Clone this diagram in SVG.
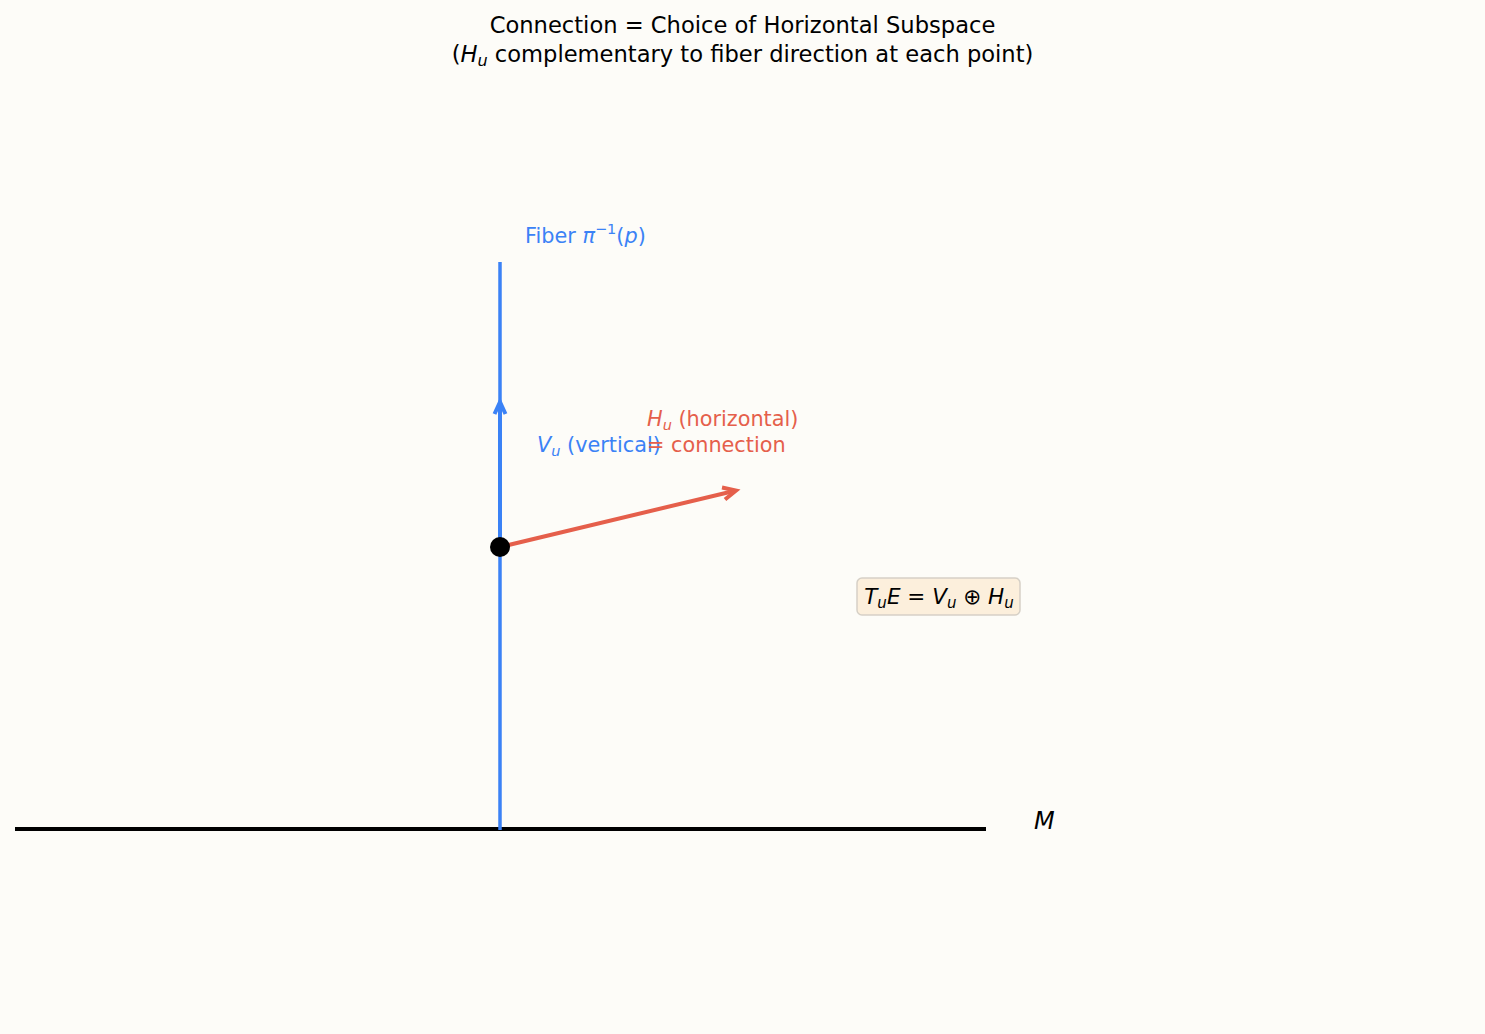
<svg xmlns="http://www.w3.org/2000/svg" width="1485" height="1034" viewBox="0 0 1485 1034">
<style>
text{font-family:"DejaVu Sans","Liberation Sans",sans-serif}
.title{font-size:22.6px;fill:#000;text-anchor:middle}
.lbl{font-size:20.8px}
.it{font-style:italic}
.sub{font-size:14.5px}
.blue{fill:#3b82f6}
.red{fill:#e55f4b}
</style>
<rect width="1485" height="1034" fill="#fdfcf8"/>
<g id="title">
<text class="title" x="742.5" y="33">Connection = Choice of Horizontal Subspace</text>
<text class="title" x="742.5" y="62">(<tspan class="it">H</tspan><tspan class="it" font-size="16" dy="4">u</tspan><tspan dy="-4"> complementary to fiber direction at each point)</tspan></text>
</g>
<g id="connectors" fill="none" stroke-linecap="butt">
<line id="base-M" x1="15" y1="829" x2="986" y2="829" stroke="#000" stroke-width="4"/>
<line id="fiber" x1="500" y1="262" x2="500" y2="830" stroke="#3b82f6" stroke-width="3.5"/>
<line id="vert-arrow" x1="500" y1="547" x2="500" y2="405" stroke="#3b82f6" stroke-width="4"/>
<path d="M494.5,414 L500,402 L505.5,414" stroke="#3b82f6" stroke-width="4" stroke-linejoin="miter"/>
<line id="horiz-arrow" x1="500" y1="547" x2="734" y2="491" stroke="#e55f4b" stroke-width="4"/>
<path d="M722,487.5 L736,490.5 L725,499.5" stroke="#e55f4b" stroke-width="4" stroke-linejoin="miter"/>
</g>
<g id="point">
<circle cx="500" cy="547" r="10" fill="#000"/>
</g>
<g id="fiber-label">
<text class="lbl blue" x="525" y="243">Fiber <tspan class="it">π</tspan><tspan font-size="14.5" dy="-9">−1</tspan><tspan dy="9">(</tspan><tspan class="it">p</tspan>)</text>
</g>
<g id="vertical-label">
<text class="lbl blue" x="537" y="452"><tspan class="it">V</tspan><tspan class="it sub" dy="4">u</tspan><tspan dy="-4"> (vertical)</tspan></text>
</g>
<g id="horizontal-label">
<text class="lbl red" x="647" y="426"><tspan class="it">H</tspan><tspan class="it sub" dy="4">u</tspan><tspan dy="-4"> (horizontal)</tspan></text>
<text class="lbl red" x="647" y="452">= connection</text>
</g>
<g id="equation">
<rect x="857" y="578" width="163" height="37" rx="5" fill="#fcefdc" stroke="#d6d0c6" stroke-width="1.5"/>
<text x="939" y="604" font-size="21.5" text-anchor="middle" fill="#000"><tspan class="it">T</tspan><tspan class="it" font-size="15" dy="4">u</tspan><tspan class="it" dy="-4">E</tspan> = <tspan class="it">V</tspan><tspan class="it" font-size="15" dy="4">u</tspan><tspan dy="-4"> ⊕ </tspan><tspan class="it">H</tspan><tspan class="it" font-size="15" dy="4">u</tspan></text>
</g>
<g id="M-label">
<text x="1034" y="829" font-size="24" class="it" fill="#000">M</text>
</g>
</svg>
